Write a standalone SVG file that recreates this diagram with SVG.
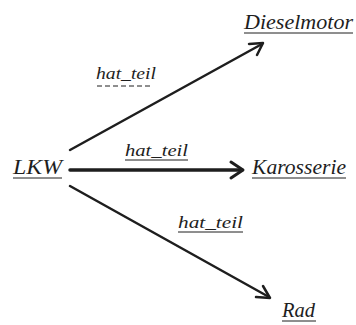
<svg xmlns="http://www.w3.org/2000/svg" width="356" height="325" viewBox="0 0 356 325">
<style>
text{font-family:"Liberation Serif","Times New Roman",serif;font-style:italic;fill:#1e1e1e}
.n{font-size:20px}
.l{font-size:16px}
.u{stroke:#1e1e1e;stroke-width:1;fill:none}
.c{stroke:#1e1e1e;fill:none;stroke-linecap:round;stroke-linejoin:round}
</style>
<rect width="356" height="325" fill="#fff"/>
<g id="edges">
<line class="c" x1="70" y1="150" x2="262" y2="44" stroke-width="2.5"/>
<polyline class="c" points="249,44 263,43 257,55" stroke-width="2.5"/>
<line class="c" x1="70" y1="170" x2="242" y2="170" stroke-width="3.5"/>
<polyline class="c" points="231,162 243,170 231,178" stroke-width="3"/>
<line class="c" x1="70" y1="186" x2="269" y2="297" stroke-width="2.5"/>
<polyline class="c" points="256,297 270,298 263,286" stroke-width="2.5"/>
<g id="label1"><text class="l" x="96" y="79" textLength="60" lengthAdjust="spacingAndGlyphs">hat_teil</text><line class="u" x1="97" y1="86" x2="151" y2="86" stroke-dasharray="5,3"/></g>
<g id="label2"><text class="l" x="125" y="156" textLength="63" lengthAdjust="spacingAndGlyphs">hat_teil</text><line class="u" x1="125" y1="160" x2="188" y2="160"/></g>
<g id="label3"><text class="l" x="178" y="228" textLength="65" lengthAdjust="spacingAndGlyphs">hat_teil</text><line class="u" x1="178" y1="232" x2="243" y2="232"/></g>
</g>
<g id="LKW"><text class="n" x="13" y="174" textLength="49" lengthAdjust="spacingAndGlyphs">LKW</text><line class="u" x1="13" y1="178" x2="62" y2="178"/></g>
<g id="Dieselmotor"><text class="n" x="244" y="29" textLength="109" lengthAdjust="spacingAndGlyphs">Dieselmotor</text><line class="u" x1="244" y1="33" x2="353" y2="33"/></g>
<g id="Karosserie"><text class="n" x="252" y="174" textLength="94" lengthAdjust="spacingAndGlyphs">Karosserie</text><line class="u" x1="252" y1="178" x2="346" y2="178"/></g>
<g id="Rad"><text class="n" x="282" y="317" textLength="33" lengthAdjust="spacingAndGlyphs">Rad</text><line class="u" x1="282" y1="321" x2="316" y2="321"/></g>
</svg>
